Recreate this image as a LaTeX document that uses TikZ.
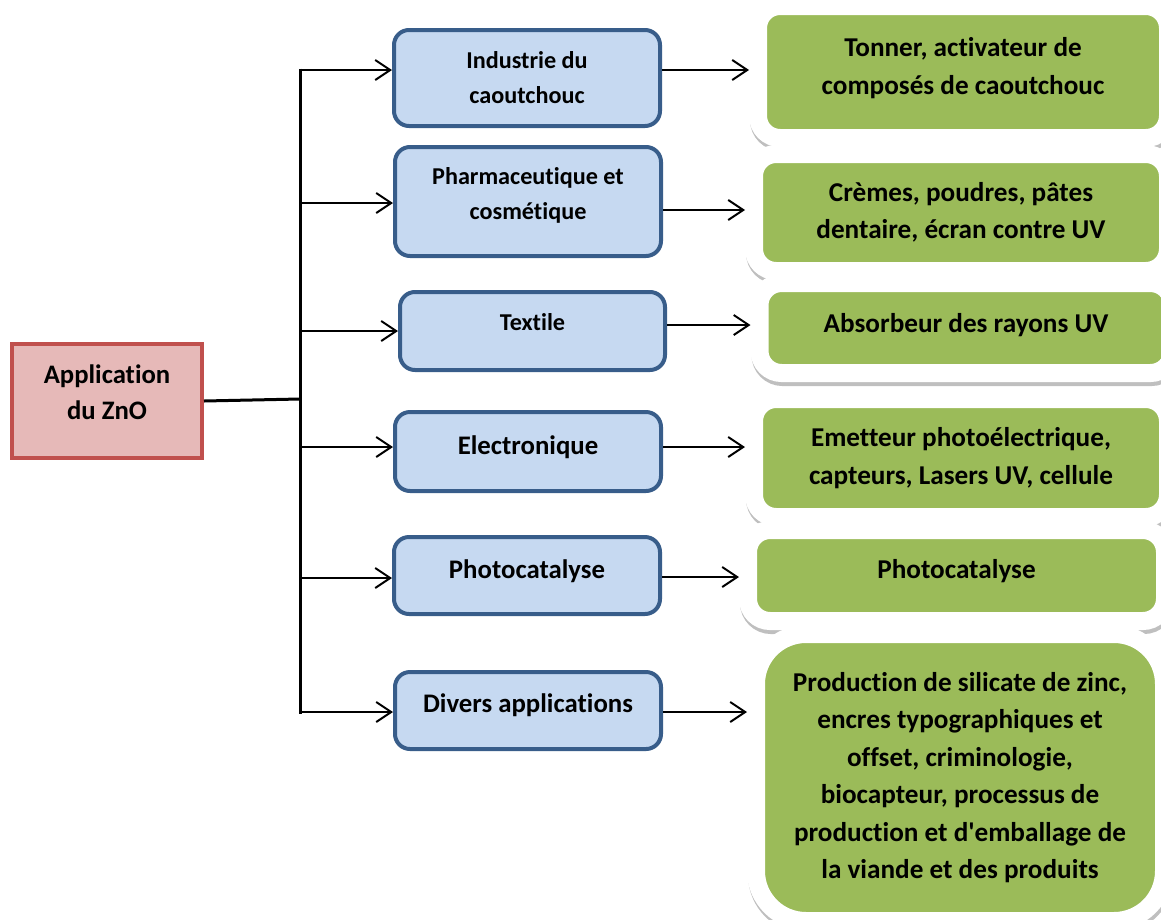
\documentclass[tikz,border=0pt]{standalone}
\usepackage{fontspec}
\setmainfont{Carlito}[Ligatures=NoCommon]
\usetikzlibrary{arrows.meta}
\definecolor{appred}{HTML}{C0504D}
\definecolor{appfill}{HTML}{E6B9B8}
\definecolor{useblue}{HTML}{385D8A}
\definecolor{usefill}{HTML}{C6D9F1}
\definecolor{detgreen}{HTML}{9BBB59}
\begin{document}
\begin{tikzpicture}[x=1pt, y=-1pt,
    appbox/.style={draw=appred, fill=appfill, line width=4pt, align=center,
        font=\fontsize{26.7}{36}\selectfont\bfseries},
    usebox/.style={draw=useblue, fill=usefill, line width=4pt, rounded corners=15pt,
        minimum width=266pt, align=center, font=\fontsize{26.8}{36}\selectfont\bfseries},
    smalltext/.style={font=\fontsize{24.2}{35}\selectfont\bfseries},
    detbox/.style={fill=detgreen, draw=white, line width=18pt, rounded corners=22pt,
        align=center, font=\fontsize{27.2}{37.5}\selectfont\bfseries,
        preaction={draw=black!25, fill=black!25, transform canvas={xshift=1pt, yshift=-4pt}}},
    lift/.style={text depth=#1},
    trunk/.style={line width=3pt},
    arr/.style={line width=2pt, -{Straight Barb[length=15pt, width=20pt]}}]
        \useasboundingbox (0, 0) rectangle (1161, 919);

        % ---root
        \node[appbox, minimum width=190pt, minimum height=114pt, lift=18pt] (app) at (107, 401) {Application\\du ZnO};

        % ---domains
        \node[usebox, smalltext, minimum height=96pt] (ind) at (527, 78) {Industrie du\\caoutchouc};
        \node[usebox, smalltext, minimum height=109pt, lift=16pt] (pha) at (528, 201.5) {Pharmaceutique et\\cosmétique};
        \node[usebox, smalltext, minimum width=265pt, minimum height=78pt, lift=18pt] (tex) at (532.5, 331) {Textile};
        \node[usebox, minimum height=79pt, lift=12pt] (ele) at (528, 451.5) {Electronique};
        \node[usebox, minimum height=77pt, lift=13pt] (pho) at (527, 575.5) {Photocatalyse};
        \node[usebox, minimum height=77pt, lift=15pt] (div) at (528, 710.5) {Divers applications};

        % ---uses
        \node[detbox, minimum width=410pt, minimum height=132pt, lift=12pt] (ind-d) at (963, 72) {Tonner, activateur de\\composés de caoutchouc};
        \node[detbox, minimum width=414pt, minimum height=117pt] (pha-d) at (961, 212.5) {Crèmes, poudres, pâtes\\dentaire, écran contre UV};
        \node[detbox, minimum width=413pt, minimum height=90pt, lift=10pt] (tex-d) at (966, 328) {Absorbeur des rayons UV};
        \node[detbox, minimum width=414pt, minimum height=118pt] (ele-d) at (961, 458) {Emetteur photoélectrique,\\capteurs, Lasers UV, cellule};
        \node[detbox, minimum width=417pt, minimum height=91pt, lift=13pt] (pho-d) at (956.5, 575.5) {Photocatalyse};
        \node[detbox, rounded corners=50pt, minimum width=408pt, minimum height=287pt] (div-d) at (960, 777.5) {Production de silicate de zinc,\\encres typographiques et\\offset, criminologie,\\biocapteur, processus de\\production et d\textquotesingle emballage de\\la viande et des produits};

        % ---trunk
        \coordinate (b1) at (300, 70);
        \coordinate (b2) at (300, 203);
        \coordinate (b3) at (300, 331);
        \coordinate (b4) at (300, 447);
        \coordinate (b5) at (300, 578);
        \coordinate (b6) at (300, 712);
        \coordinate (root) at (300, 399);
        \draw[trunk] (app.east) -- (root);
        \draw[trunk] ([yshift=1.5pt]b1) -- ([yshift=-1.5pt]b6);

        \draw[arr] (b1) -- (b1 -| ind.west);
        \draw[arr] (b2) -- (b2 -| pha.west);
        \draw[arr] (b3) -- (b3 -| tex.west);
        \draw[arr] (b4) -- (b4 -| ele.west);
        \draw[arr] (b5) -- (b5 -| pho.west);
        \draw[arr] (b6) -- (b6 -| div.west);

        % ---domain to use
        \coordinate (r1) at (0, 70);
        \coordinate (r2) at (0, 210);
        \coordinate (r3) at (0, 325);
        \coordinate (r4) at (0, 447);
        \coordinate (r5) at (0, 577);
        \coordinate (r6) at (0, 712);
        \draw[arr] (ind.east |- r1) -- (ind-d.west |- r1);
        \draw[arr] (pha.east |- r2) -- (pha-d.west |- r2);
        \draw[arr] (tex.east |- r3) -- (tex-d.west |- r3);
        \draw[arr] (ele.east |- r4) -- (ele-d.west |- r4);
        \draw[arr] (pho.east |- r5) -- (pho-d.west |- r5);
        \draw[arr] (div.east |- r6) -- (div-d.west |- r6);

    \end{tikzpicture}
\end{document}
